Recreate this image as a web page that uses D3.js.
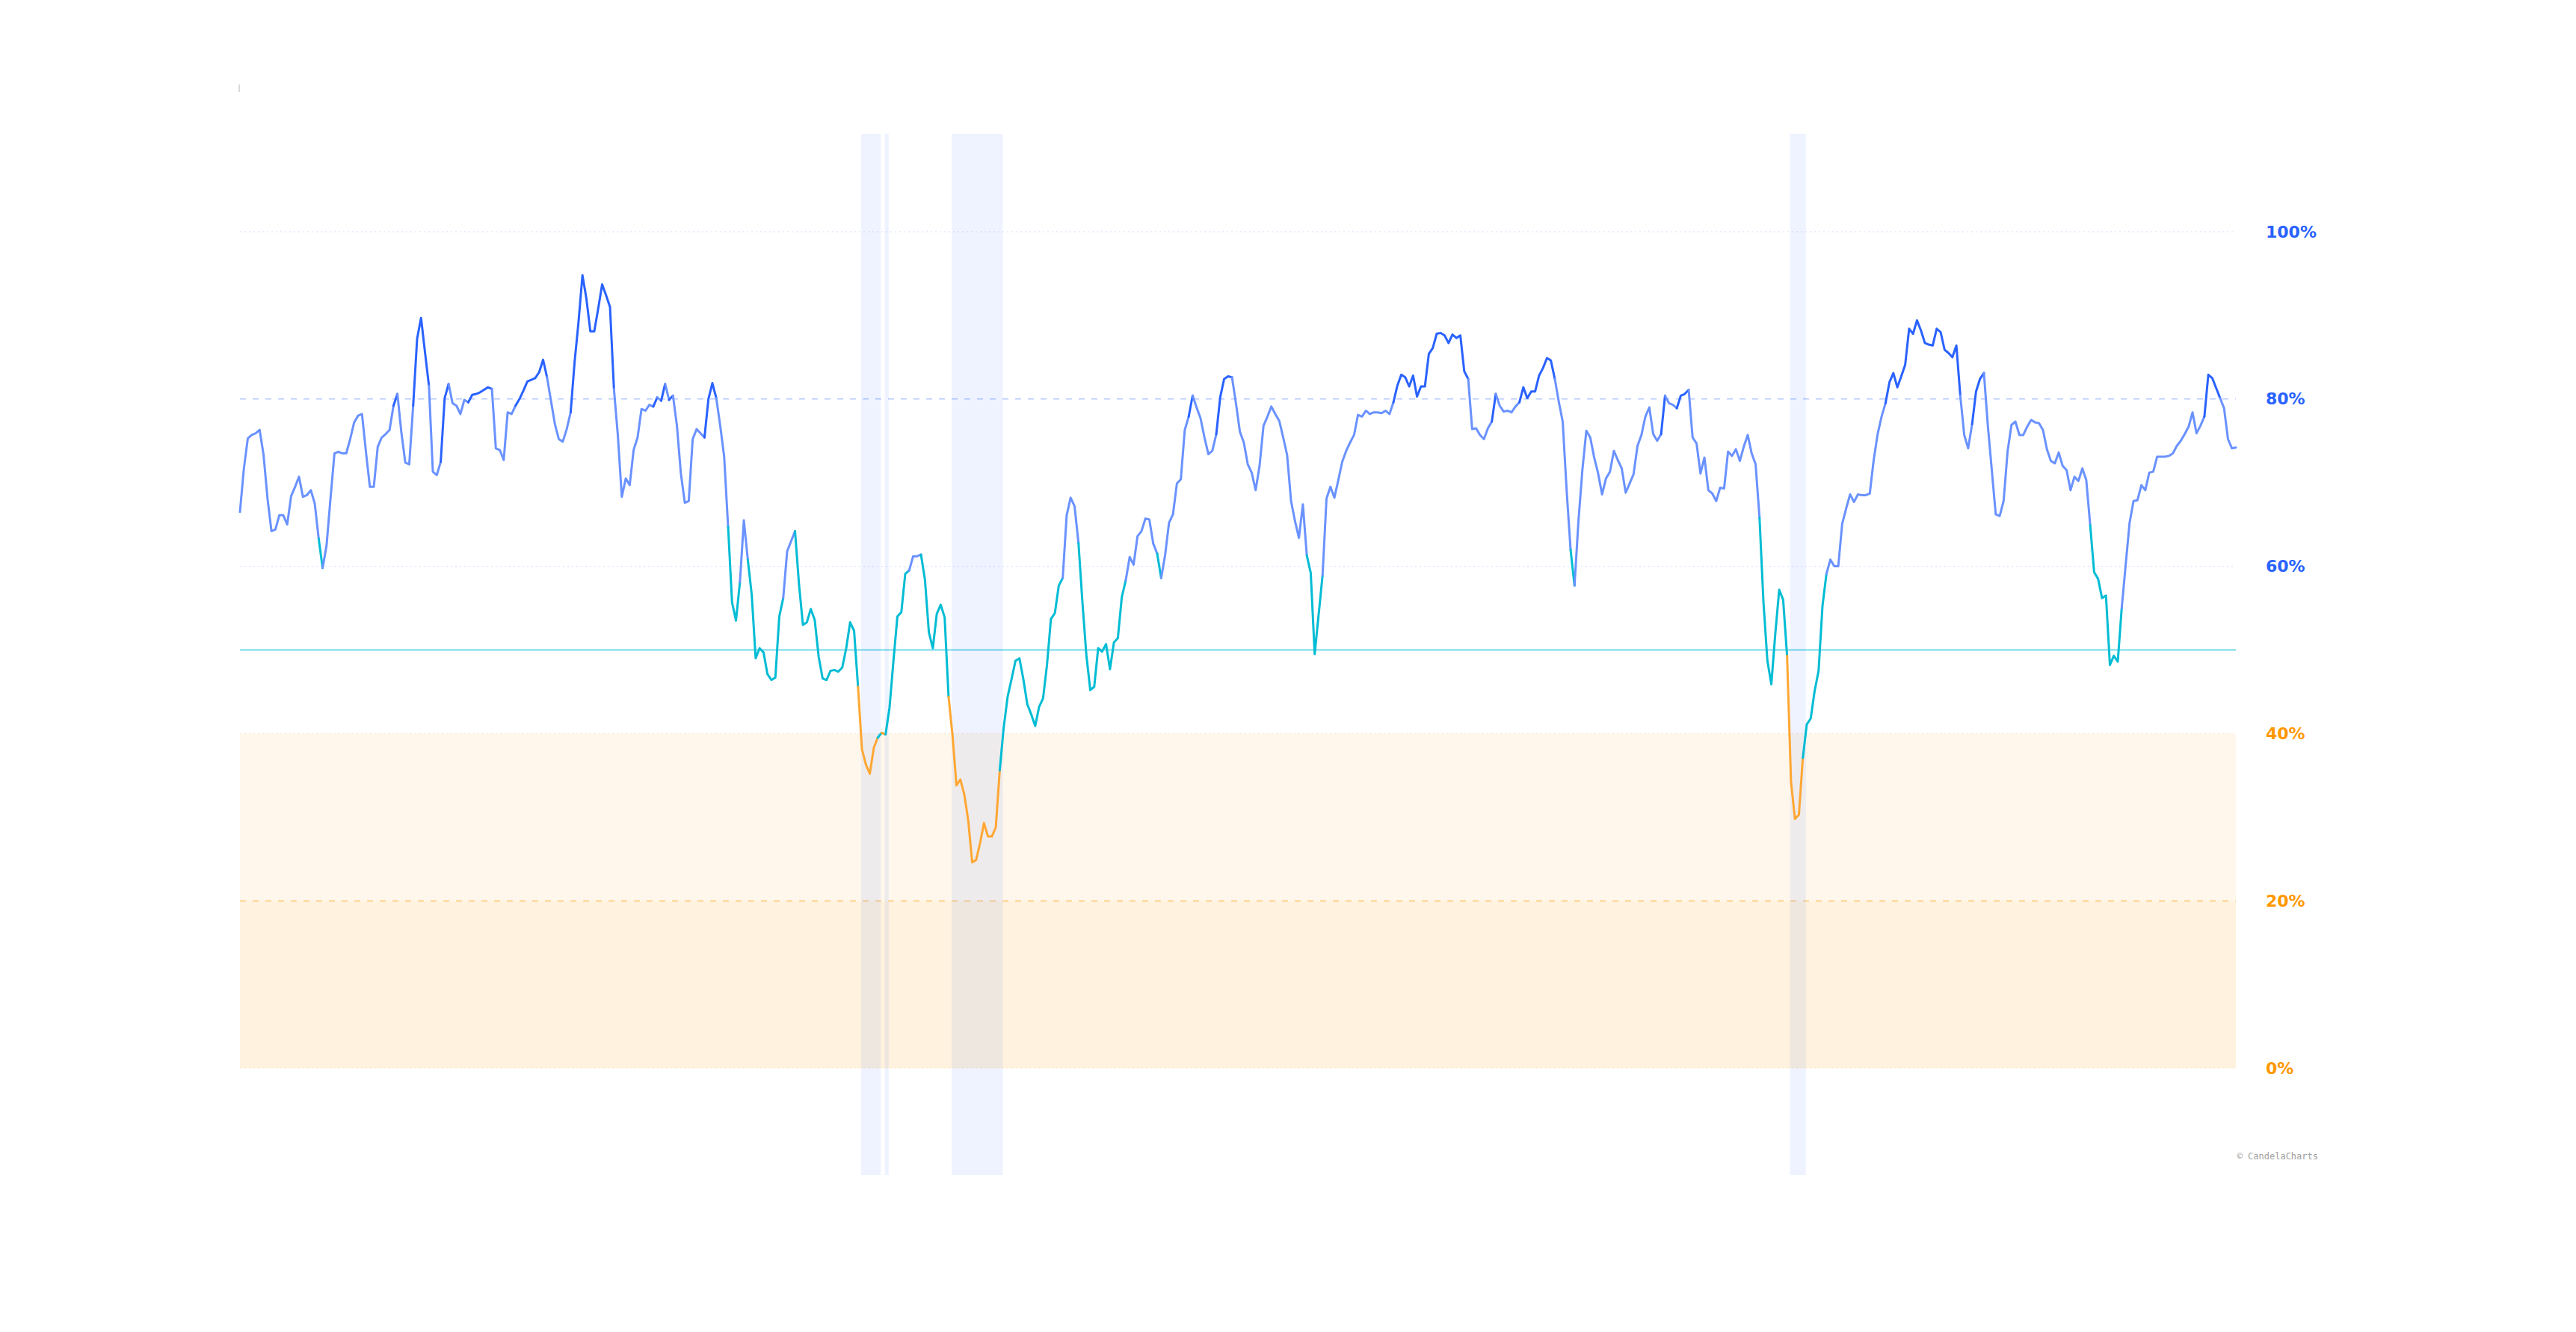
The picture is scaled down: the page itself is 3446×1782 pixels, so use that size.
<!DOCTYPE html>
<html>
<head>
<meta charset="utf-8">
<script src="https://cdn.jsdelivr.net/npm/d3@7"></script>
<style>
  html, body { margin: 0; padding: 0; background: #ffffff; }
  svg { display: block; }
</style>
</head>
<body>
<svg id="chart" width="3446" height="1782"></svg>
<script>
// ---------------- DATA ----------------
const values = [
  66.5,71.7,75.3,75.7,75.9,76.3,73.3,68.1,64.2,64.4,
  66.1,66.1,65.0,68.4,69.5,70.7,68.3,68.5,69.1,67.5,
  63.3,59.8,62.5,68.1,73.5,73.7,73.5,73.5,75.2,77.2,
  78.0,78.2,73.7,69.5,69.5,74.3,75.4,75.8,76.3,79.2,
  80.6,76.0,72.4,72.2,79.2,87.2,89.7,85.6,81.6,71.3,
  70.9,72.5,80.1,81.8,79.5,79.2,78.2,79.9,79.6,80.5,
  80.6,80.8,81.1,81.4,81.2,74.1,73.9,72.7,78.4,78.2,
  79.2,80.0,81.0,82.1,82.3,82.5,83.2,84.7,82.6,79.8,
  77.0,75.2,74.9,76.4,78.4,84.4,89.2,94.8,92.0,88.1,
  88.1,90.8,93.7,92.4,91.0,81.2,75.6,68.3,70.5,69.7,
  73.9,75.4,78.8,78.6,79.3,79.1,80.2,79.8,81.8,79.9,
  80.4,76.8,71.1,67.6,67.8,75.2,76.4,75.9,75.4,80.0,
  81.9,80.1,76.8,73.1,64.7,55.7,53.5,58.1,65.5,60.8,
  56.6,49.0,50.2,49.7,47.1,46.4,46.7,54.0,56.2,61.8,
  63.0,64.2,57.9,53.0,53.3,54.9,53.6,49.2,46.6,46.4,
  47.5,47.6,47.4,47.9,50.2,53.3,52.3,45.6,38.1,36.3,
  35.2,38.3,39.5,40.1,39.9,43.1,48.7,54.0,54.5,59.1,
  59.5,61.2,61.2,61.4,58.4,52.1,50.2,54.3,55.4,53.9,
  44.4,39.8,33.8,34.5,32.7,29.6,24.6,24.9,26.9,29.3,
  27.7,27.7,28.8,35.6,40.7,44.4,46.5,48.7,49.0,46.5,
  43.5,42.3,40.9,43.2,44.2,48.2,53.7,54.4,57.7,58.6,
  66.1,68.2,67.2,62.8,55.7,49.4,45.2,45.6,50.2,49.8,
  50.7,47.7,50.9,51.4,56.3,58.3,61.1,60.2,63.6,64.2,
  65.7,65.6,62.7,61.5,58.6,61.3,65.2,66.2,69.9,70.4,
  76.3,77.9,80.4,79.0,77.7,75.4,73.4,73.8,75.8,80.2,
  82.4,82.7,82.6,79.5,76.1,74.8,72.2,71.2,69.1,72.0,
  76.8,77.9,79.1,78.2,77.4,75.4,73.3,67.8,65.4,63.4,
  67.4,61.3,59.2,49.5,54.2,58.9,68.1,69.5,68.2,70.3,
  72.5,73.8,74.8,75.7,78.1,77.9,78.6,78.2,78.4,78.4,
  78.3,78.6,78.2,79.6,81.6,82.9,82.6,81.5,82.8,80.3,
  81.5,81.5,85.4,86.1,87.8,87.9,87.6,86.7,87.7,87.3,
  87.6,83.3,82.4,76.4,76.5,75.7,75.2,76.5,77.3,80.6,
  79.2,78.5,78.6,78.4,79.1,79.6,81.4,80.1,80.9,80.9,
  82.8,83.7,84.9,84.6,82.4,79.7,77.3,69.1,62.0,57.7,
  65.4,71.5,76.2,75.4,73.0,71.1,68.6,70.5,71.3,73.8,
  72.7,71.7,68.8,69.9,71.0,74.4,75.7,77.9,79.0,75.8,
  75.0,75.8,80.4,79.5,79.3,78.9,80.4,80.6,81.1,75.4,
  74.7,71.1,73.0,69.1,68.7,67.8,69.4,69.3,73.7,73.2,
  74.0,72.6,74.3,75.7,73.5,72.2,65.8,55.7,48.7,45.9,
  51.9,57.2,56.0,49.3,34.2,29.8,30.3,37.1,41.1,41.8,
  45.1,47.5,55.3,59.1,60.8,60.0,60.0,65.1,66.9,68.6,
  67.7,68.6,68.5,68.5,68.7,72.7,75.8,77.9,79.5,82.0,
  83.1,81.4,82.7,84.1,88.4,87.8,89.4,88.2,86.7,86.5,
  86.4,88.4,88.0,85.9,85.5,85.0,86.4,80.4,75.7,74.1,
  77.0,80.9,82.4,83.1,76.8,71.5,66.2,66.0,67.8,73.7,
  76.9,77.3,75.7,75.7,76.7,77.5,77.2,77.1,76.3,74.0,
  72.6,72.3,73.6,72.0,71.5,69.1,70.7,70.2,71.7,70.3,
  64.9,59.3,58.5,56.2,56.5,48.2,49.3,48.6,55.0,60.1,
  65.2,67.8,67.9,69.7,69.1,71.2,71.3,73.1,73.1,73.1,
  73.2,73.5,74.4,75.0,75.8,76.7,78.4,75.9,76.8,77.9,
  82.9,82.5,81.3,80.1,78.9,75.2,74.1,74.2
];
const tickValues = [0, 20, 40, 60, 80, 100];
const tickLabels = ["0%", "20%", "40%", "60%", "80%", "100%"];
const zoneLow = [0, 20];     // deep zone
const zoneMid = [20, 40];    // weak zone
const midLine = 50;
const lowThreshold = 40;     // shaded periods where value < 40
const highThreshold = 60;
const strongThreshold = 80;
const watermark = "\u00A9 CandelaCharts";

// ---------------- LAYOUT ----------------
const plot = { left: 321, right: 2991, top: 179, bottom: 1572 };
const y0px = 1429, y100px = 310;

const svg = d3.select("#chart");

const x = d3.scaleLinear().domain([0, values.length - 1]).range([plot.left, plot.right]);
const y = d3.scaleLinear().domain([0, 100]).range([y0px, y100px]);

const BLUE = "#2962ff", LIGHT_BLUE = "#6a92ff", CYAN = "#00bcd4", ORANGE = "#ff9800", ORANGE_LINE = "#ffa733";

// zones
const gZones = svg.append("g");
gZones.append("rect")
  .attr("x", plot.left).attr("width", plot.right - plot.left)
  .attr("y", y(zoneMid[1])).attr("height", y(zoneMid[0]) - y(zoneMid[1]))
  .attr("fill", ORANGE).attr("fill-opacity", 0.075);
gZones.append("rect")
  .attr("x", plot.left).attr("width", plot.right - plot.left)
  .attr("y", y(zoneLow[1])).attr("height", y(zoneLow[0]) - y(zoneLow[1]))
  .attr("fill", ORANGE).attr("fill-opacity", 0.13);

// grid lines
const gridSpec = [
  { v: 100, color: BLUE, op: 0.22, dash: "2,4", w: 1 },
  { v: 80, color: BLUE, op: 0.35, dash: "8,9", w: 1.5 },
  { v: 60, color: BLUE, op: 0.22, dash: "2,4", w: 1 },
  { v: midLine, color: CYAN, op: 0.55, dash: null, w: 2 },
  { v: 40, color: ORANGE, op: 0.22, dash: "2,4", w: 1 },
  { v: 20, color: ORANGE, op: 0.5, dash: "8,9", w: 1.5 },
  { v: 0, color: ORANGE, op: 0.2, dash: "2,4", w: 1 }
];
const gGrid = svg.append("g");
gridSpec.forEach(g => {
  gGrid.append("line")
    .attr("x1", plot.left).attr("x2", plot.right)
    .attr("y1", y(g.v)).attr("y2", y(g.v))
    .attr("stroke", g.color).attr("stroke-opacity", g.op)
    .attr("stroke-width", g.w)
    .attr("stroke-dasharray", g.dash);
});

// shaded periods (runs of values below threshold)
const runs = [];
let start = null;
values.forEach((v, i) => {
  if (v < lowThreshold) { if (start === null) start = i; }
  else if (start !== null) { runs.push([start, i - 1]); start = null; }
});
if (start !== null) runs.push([start, values.length - 1]);
svg.append("g").selectAll("rect").data(runs).join("rect")
  .attr("x", d => x(d[0] - 0.5) + 1.5)
  .attr("width", d => x(d[1] + 0.5) - x(d[0] - 0.5))
  .attr("y", plot.top).attr("height", plot.bottom - plot.top)
  .attr("fill", BLUE).attr("fill-opacity", 0.08);

// line, coloured per segment by the value it reaches
function colorFor(v) {
  if (v >= strongThreshold) return BLUE;
  if (v >= highThreshold) return LIGHT_BLUE;
  if (v >= lowThreshold) return CYAN;
  return ORANGE_LINE;
}
const segRuns = [];
for (let i = 1; i < values.length; i++) {
  const c = colorFor(values[i]);
  const last = segRuns[segRuns.length - 1];
  if (last && last.color === c) last.idx.push(i);
  else segRuns.push({ color: c, idx: [i - 1, i] });
}
const lineGen = d3.line().x(i => x(i)).y(i => y(values[i]));
svg.append("g").selectAll("path").data(segRuns).join("path")
  .attr("d", d => lineGen(d.idx))
  .attr("fill", "none")
  .attr("stroke", d => d.color)
  .attr("stroke-width", 3)
  .attr("stroke-linejoin", "round")
  .attr("stroke-linecap", "round");

// right axis
const axis = d3.axisRight(y).tickValues(tickValues).tickSize(0).tickPadding(40)
  .tickFormat((d, i) => tickLabels[i]);
const gAxis = svg.append("g").attr("transform", `translate(${plot.right},0)`).call(axis);
gAxis.select(".domain").remove();
gAxis.selectAll("text")
  .attr("font-family", "DejaVu Sans, Verdana, sans-serif")
  .attr("font-size", 22)
  .attr("font-weight", "bold")
  .attr("fill", d => d >= highThreshold ? BLUE : ORANGE);

// small top-left marker
svg.append("line")
  .attr("x1", plot.left - 1).attr("x2", plot.left - 1)
  .attr("y1", 113).attr("y2", 123)
  .attr("stroke", "#cccccc").attr("stroke-width", 1.5);

// watermark
svg.append("text")
  .attr("x", 3101).attr("y", 1551)
  .attr("text-anchor", "end")
  .attr("font-family", "DejaVu Sans Mono, monospace")
  .attr("font-size", 12)
  .attr("fill", "#9e9e9e")
  .text(watermark);
</script>
</body>
</html>
